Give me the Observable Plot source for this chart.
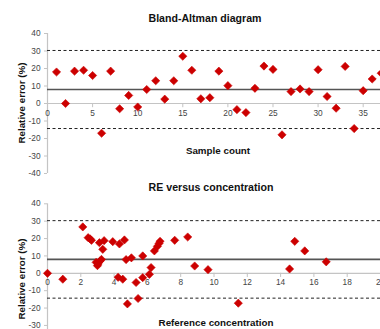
<!DOCTYPE html>
<html>
<head>
<meta charset="utf-8">
<script src="https://cdn.jsdelivr.net/npm/d3@7"></script>
<script src="https://cdn.jsdelivr.net/npm/@observablehq/plot@0.6"></script>
<style>
  html, body { margin: 0; padding: 0; background: #fff; overflow: hidden; }
  #wrap { position: relative; width: 380px; height: 329px; overflow: hidden; font-family: "Liberation Sans", Arial, sans-serif; }
  .plot { position: absolute; left: 0; }
  .lbl { position: absolute; font-weight: bold; color: #111; white-space: nowrap; transform: translate(-50%, -50%); }
  .ylbl { position: absolute; font-weight: bold; color: #111; white-space: nowrap; transform: translate(-50%, -50%) rotate(-90deg); }
</style>
</head>
<body>
<div id="wrap"></div>
<script>
// ---- Data: Bland-Altman (relative error vs sample number) ----
const sampleNo = [1,2,3,4,5,6,7,8,9,10,11,12,13,14,15,16,17,18,19,20,21,22,23,24,25,26,27,28,29,30,31,32,33,34,35,36,37];
const sampleRE = [18,0,18.5,19,16,-17,18.5,-3,4.6,-2,8,13,2.5,13,27,19,2.7,3.3,18.5,10.2,-3.5,-5.2,8.7,21.4,19.5,-17.9,6.8,8.3,6.8,19.3,4,-2.7,21.2,-14.3,7.3,14,17.3];

// ---- Data: RE versus reference concentration ----
const concX = [0,0.92,2.12,2.44,2.56,2.64,3.12,3.4,3.32,2.92,3.04,3.0,3.16,3.24,3.92,4.32,4.24,4.62,4.52,4.72,5.04,4.8,5.32,5.44,5.72,5.72,6.12,6.22,6.42,6.6,6.7,6.76,7.64,8.42,8.84,9.64,11.46,14.54,14.85,15.45,16.74];
const concRE = [0,-3.4,26.7,20.5,19.8,19.0,17.6,18.8,13.8,6.3,5.4,4.4,7.1,8.0,18.2,16.9,-2.3,19.2,-3.4,7.9,8.9,-17.6,-5.3,-14.5,10.0,-2.5,-0.6,3.3,12.9,15.5,17.2,18.4,19.0,20.9,4.2,2.1,-17.2,2.5,18.4,12.9,6.6];

// ---- Limits of agreement ----
const meanRE = 8.0;
const limits = [30.3, -14.3];

// ---- Tick labels ----
const yTicks = [-40,-30,-20,-10,0,10,20,30,40];
const xTicksTop = [0,5,10,15,20,25,30,35];
const xTicksBottom = [0,2,4,6,8,10,12,14,16,18,20];

const RED = "#cc0000";
const AXIS = "#c4c4c4";
const TICKTXT = "#444";

function panel(xs, ys, xTicks, xDomain, height, marginTop, marginBottom) {
  const data = xs.map((x, i) => ({x, y: ys[i]}));
  return Plot.plot({
    width: 380,
    height,
    marginLeft: 47,
    marginRight: 0,
    marginTop,
    marginBottom,
    style: {fontFamily: "Liberation Sans, Arial, sans-serif", background: "transparent"},
    x: {domain: xDomain, axis: null},
    y: {domain: [-40, 40], axis: null},
    marks: [
      Plot.axisY(yTicks, {tickSize: 3, tickPadding: 4, fontSize: 8.3, fill: TICKTXT, stroke: AXIS, label: null, tickFormat: d => String(d)}),
      Plot.ruleX([xDomain[0]], {y1: -40, y2: 40, stroke: AXIS, strokeWidth: 1.2}),
      Plot.ruleY([0], {stroke: AXIS, strokeWidth: 1.2}),
      Plot.ruleX(xTicks, {x: d => d, y1: 0, y2: -2.4, stroke: AXIS}),
      Plot.text(xTicks, {x: d => d, y: 0, dy: 9.5, text: d => String(d), fontSize: 8.3, fill: TICKTXT}),
      Plot.ruleY(limits, {stroke: "#222", strokeWidth: 1, strokeDasharray: "3,2.5"}),
      Plot.ruleY([meanRE], {stroke: "#555", strokeWidth: 1.6}),
      Plot.dot(data, {x: "x", y: "y", symbol: "diamond2", r: 3.7, fill: RED, stroke: RED, strokeWidth: 0.6})
    ]
  });
}

const wrap = document.getElementById("wrap");

const topPanel = panel(sampleNo, sampleRE, xTicksTop, [0, 36.92], 178, 33, 5);
topPanel.classList.add("plot");
topPanel.style.top = "0px";
wrap.appendChild(topPanel);

const bottomPanel = panel(concX, concRE, xTicksBottom, [0, 20], 170, 25.3, 5.7);
bottomPanel.classList.add("plot");
bottomPanel.style.top = "178px";
wrap.appendChild(bottomPanel);

function addLabel(text, cls, x, y, size) {
  const d = document.createElement("div");
  d.className = cls;
  d.textContent = text;
  d.style.left = x + "px";
  d.style.top = y + "px";
  d.style.fontSize = size + "px";
  wrap.appendChild(d);
}
addLabel("Bland-Altman diagram", "lbl", 205, 18, 10.6);
addLabel("Sample count", "lbl", 218, 150, 9.8);
addLabel("Relative error (%)", "ylbl", 21, 103, 9.8);
addLabel("RE versus concentration", "lbl", 211, 187, 10.6);
addLabel("Reference concentration", "lbl", 216, 322, 9.8);
addLabel("Relative error (%)", "ylbl", 21, 279, 9.8);
</script>
</body>
</html>
